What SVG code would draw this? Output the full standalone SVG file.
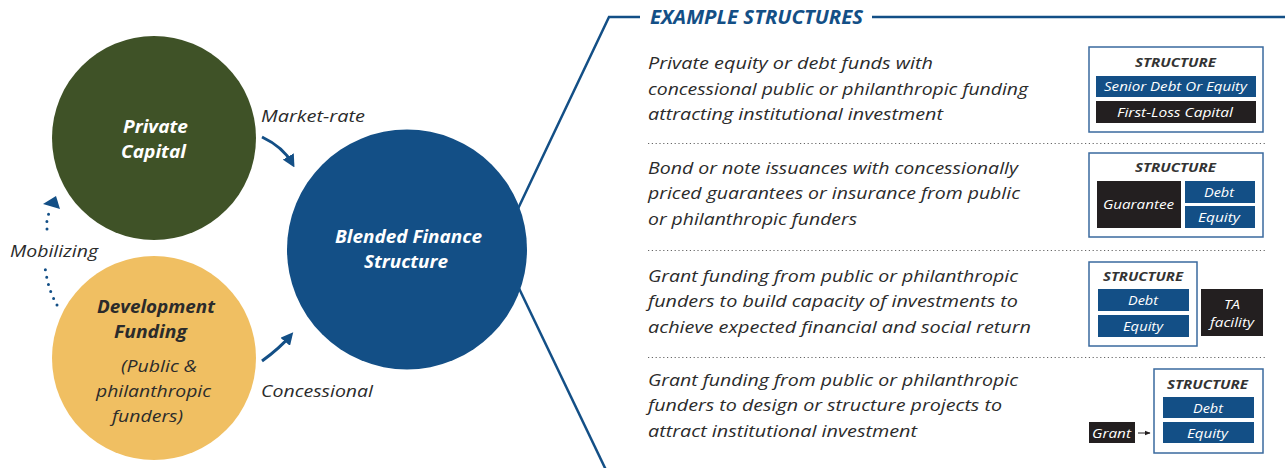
<svg xmlns="http://www.w3.org/2000/svg" width="1285" height="468" viewBox="0 0 1285 468">
  <style>
    text { font-family: "Open Sans", Lato, sans-serif; font-style: italic; }
    .txt { fill: #2b2b2b; }
    .body { font-size: 17px; }
    .nodeTitle { font-size: 18px; font-weight: bold; }
    .white { fill: #ffffff; }
    .hdr { font-weight: bold; font-size: 19px; fill: #134f86; }
    .stTitle { font-weight: bold; font-size: 12.5px; fill: #333333; }
    .cell { font-size: 13.5px; fill: #ffffff; }
    .small { font-size: 12.5px; }
    .frame { fill: #ffffff; stroke: #3a6a9e; stroke-width: 1.5; }
    .blue { fill: #134f86; }
    .black { fill: #231f20; }
    .sep { stroke: #666666; stroke-width: 1.2; stroke-dasharray: 1.2 2.6; fill: none; }
    .link { stroke: #134f86; stroke-width: 2.5; fill: none; }
    .flow { stroke: #134f86; stroke-width: 3; fill: none; marker-end: url(#head); }
    .dots { stroke: #134f86; stroke-width: 3; stroke-linecap: round; stroke-dasharray: 0 7.5; fill: none; }
  </style>
  <defs>
    <marker id="head" viewBox="0 0 10 10" refX="6" refY="5" markerWidth="4.2" markerHeight="4.2" orient="auto" markerUnits="strokeWidth">
      <path d="M0,0 L10,5 L0,10 Z" fill="#134f86"/>
    </marker>
    <marker id="smallHead" viewBox="0 0 10 10" refX="9" refY="5" markerWidth="6" markerHeight="6" orient="auto" markerUnits="strokeWidth">
      <path d="M0,1 L10,5 L0,9 Z" fill="#231f20"/>
    </marker>
  </defs>

  <!-- connectors -->
  <g id="connectors">
    <!-- bracket joining the centre node to the example list -->
    <polyline class="link" points="515,215 609,17 640,17"/>
    <line class="link" x1="872" y1="17" x2="1285" y2="17"/>
    <line class="link" x1="515" y1="280" x2="606" y2="470"/>
    <!-- market-rate flow -->
    <path class="flow" d="M262,137 Q283,147 292,163"/>
    <!-- concessional flow -->
    <path class="flow" d="M262,361 Q280,348 290,336"/>
    <!-- mobilizing flow (dotted) -->
    <path class="dots" d="M57,305 Q48,290 45,267"/>
    <path class="dots" d="M47,229 Q46,220 49,213"/>
    <polygon points="43,204 56,196 60,209" fill="#134f86"/>
  </g>

  <g id="private-capital">
    <circle cx="154" cy="138" r="102" fill="#3f5227"/>
    <text class="txt nodeTitle white" x="123" y="133" textLength="65" lengthAdjust="spacingAndGlyphs">Private</text>
    <text class="txt nodeTitle white" x="121" y="158" textLength="65" lengthAdjust="spacingAndGlyphs">Capital</text>
  </g>

  <g id="development-funding">
    <circle cx="154" cy="358" r="102" fill="#f0bf62"/>
    <text class="txt nodeTitle" x="97" y="313" textLength="118" lengthAdjust="spacingAndGlyphs">Development</text>
    <text class="txt nodeTitle" x="114" y="338" textLength="73" lengthAdjust="spacingAndGlyphs">Funding</text>
    <text class="txt body" x="121" y="372" textLength="76" lengthAdjust="spacingAndGlyphs">(Public &amp;</text>
    <text class="txt body" x="96" y="397" textLength="115" lengthAdjust="spacingAndGlyphs">philanthropic</text>
    <text class="txt body" x="112" y="422" textLength="71" lengthAdjust="spacingAndGlyphs">funders)</text>
  </g>

  <g id="blended-finance">
    <circle cx="407" cy="249.5" r="120" fill="#134f86"/>
    <text class="txt nodeTitle white" x="335" y="243" textLength="147" lengthAdjust="spacingAndGlyphs">Blended Finance</text>
    <text class="txt nodeTitle white" x="364" y="268" textLength="84" lengthAdjust="spacingAndGlyphs">Structure</text>
  </g>

  <g id="flow-labels">
    <text class="txt body" x="261" y="122" textLength="104" lengthAdjust="spacingAndGlyphs">Market-rate</text>
    <text class="txt body" x="261" y="397" textLength="112" lengthAdjust="spacingAndGlyphs">Concessional</text>
    <text class="txt body" x="10" y="257" textLength="88" lengthAdjust="spacingAndGlyphs">Mobilizing</text>
  </g>

  <g id="example-list">
    <text class="hdr" x="650" y="24" textLength="213" lengthAdjust="spacingAndGlyphs">EXAMPLE STRUCTURES</text>

    <text class="txt body" x="648" y="69" textLength="285" lengthAdjust="spacingAndGlyphs">Private equity or debt funds with</text>
    <text class="txt body" x="648" y="95" textLength="380" lengthAdjust="spacingAndGlyphs">concessional public or philanthropic funding</text>
    <text class="txt body" x="648" y="120" textLength="295" lengthAdjust="spacingAndGlyphs">attracting institutional investment</text>
    <line class="sep" x1="648" y1="143.5" x2="1266" y2="143.5"/>

    <text class="txt body" x="648" y="174" textLength="370" lengthAdjust="spacingAndGlyphs">Bond or note issuances with concessionally</text>
    <text class="txt body" x="648" y="199" textLength="372" lengthAdjust="spacingAndGlyphs">priced guarantees or insurance from public</text>
    <text class="txt body" x="648" y="225" textLength="209" lengthAdjust="spacingAndGlyphs">or philanthropic funders</text>
    <line class="sep" x1="648" y1="250.5" x2="1266" y2="250.5"/>

    <text class="txt body" x="648" y="282" textLength="370" lengthAdjust="spacingAndGlyphs">Grant funding from public or philanthropic</text>
    <text class="txt body" x="648" y="307" textLength="370" lengthAdjust="spacingAndGlyphs">funders to build capacity of investments to</text>
    <text class="txt body" x="648" y="333" textLength="383" lengthAdjust="spacingAndGlyphs">achieve expected financial and social return</text>
    <line class="sep" x1="648" y1="357.5" x2="1266" y2="357.5"/>

    <text class="txt body" x="648" y="386" textLength="370" lengthAdjust="spacingAndGlyphs">Grant funding from public or philanthropic</text>
    <text class="txt body" x="648" y="411" textLength="354" lengthAdjust="spacingAndGlyphs">funders to design or structure projects to</text>
    <text class="txt body" x="648" y="437" textLength="269" lengthAdjust="spacingAndGlyphs">attract institutional investment</text>
  </g>

  <g id="structure-1">
    <rect class="frame" x="1089" y="47" width="174" height="85"/>
    <text class="stTitle" x="1135" y="67" textLength="81" lengthAdjust="spacingAndGlyphs">STRUCTURE</text>
    <rect class="blue" x="1096" y="76" width="160" height="21"/>
    <text class="cell" x="1104" y="91" textLength="143" lengthAdjust="spacingAndGlyphs">Senior Debt Or Equity</text>
    <rect class="black" x="1096" y="101" width="160" height="22"/>
    <text class="cell" x="1117" y="117" textLength="116" lengthAdjust="spacingAndGlyphs">First-Loss Capital</text>
  </g>

  <g id="structure-2">
    <rect class="frame" x="1089" y="153" width="174" height="84"/>
    <text class="stTitle" x="1135" y="172" textLength="81" lengthAdjust="spacingAndGlyphs">STRUCTURE</text>
    <rect class="black" x="1097" y="181" width="84" height="47"/>
    <text class="cell" x="1103" y="209" textLength="71" lengthAdjust="spacingAndGlyphs">Guarantee</text>
    <rect class="blue" x="1185" y="181" width="70" height="22"/>
    <text class="cell" x="1204" y="197" textLength="30" lengthAdjust="spacingAndGlyphs">Debt</text>
    <rect class="blue" x="1185" y="206" width="70" height="22"/>
    <text class="cell" x="1198" y="222" textLength="42" lengthAdjust="spacingAndGlyphs">Equity</text>
  </g>

  <g id="structure-3">
    <rect class="frame" x="1089" y="262" width="108" height="84"/>
    <text class="stTitle" x="1103" y="281" textLength="80" lengthAdjust="spacingAndGlyphs">STRUCTURE</text>
    <rect class="blue" x="1098" y="289" width="91" height="22"/>
    <text class="cell" x="1128" y="305" textLength="30" lengthAdjust="spacingAndGlyphs">Debt</text>
    <rect class="blue" x="1098" y="315" width="91" height="22"/>
    <text class="cell" x="1123" y="331" textLength="40" lengthAdjust="spacingAndGlyphs">Equity</text>
    <rect class="black" x="1201" y="289" width="62" height="47"/>
    <text class="cell small" x="1224" y="309" textLength="16" lengthAdjust="spacingAndGlyphs">TA</text>
    <text class="cell small" x="1210" y="327" textLength="44" lengthAdjust="spacingAndGlyphs">facility</text>
  </g>

  <g id="structure-4">
    <rect class="frame" x="1154" y="369" width="109" height="84"/>
    <text class="stTitle" x="1167" y="389" textLength="81" lengthAdjust="spacingAndGlyphs">STRUCTURE</text>
    <rect class="blue" x="1163" y="397" width="91" height="21"/>
    <text class="cell" x="1193" y="413" textLength="30" lengthAdjust="spacingAndGlyphs">Debt</text>
    <rect class="blue" x="1163" y="422" width="91" height="21"/>
    <text class="cell" x="1187" y="438" textLength="41" lengthAdjust="spacingAndGlyphs">Equity</text>
    <rect class="black" x="1089" y="422" width="46" height="21"/>
    <text class="cell" x="1092" y="438" textLength="39" lengthAdjust="spacingAndGlyphs">Grant</text>
    <line x1="1138" y1="433" x2="1150" y2="433" stroke="#231f20" stroke-width="1" marker-end="url(#smallHead)"/>
  </g>
</svg>
